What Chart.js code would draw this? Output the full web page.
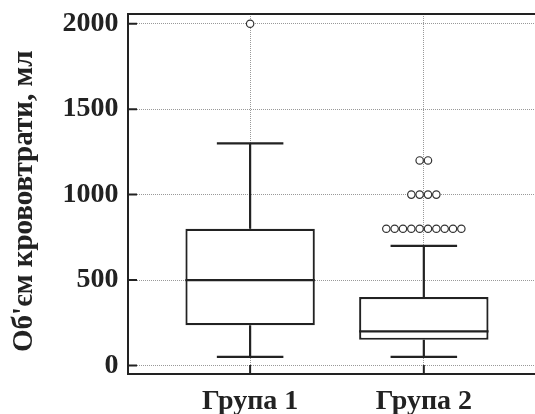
<!DOCTYPE html>
<html>
  <head>
    <title>
      Об'єм крововтрати
    </title>
    <script src="https://cdn.jsdelivr.net/npm/chart.js"></script>
    <style>
      body { margin: 0; background: #fff; }
    </style>
  </head>
  <body>
    <canvas id="myChart" width="535" height="414"></canvas>
    <script>
      'use strict'
      // groups and their box plot stats (ml)
      const groups = ['Група 1', 'Група 2'];
      const q1 = [235, 150];
      const median = [500, 200];
      const q3 = [800, 400];
      const whiskerLow = [50, 50];
      const whiskerHigh = [1300, 700];
      const outliers1 = [2000];
      const outliers2 = [800, 800, 800, 800, 800, 800, 800, 800, 800, 800, 1000, 1000, 1000, 1000, 1200, 1200];
      const yTicks = [0, 500, 1000, 1500, 2000];

      const boxWidth = 0.745;
      const capWidth = 0.383;
      const dotStep = 0.048;
      const ink = '#222';
      const font = 'Liberation Serif, Times New Roman, serif';

      // whiskers, caps and medians as broken line segments
      function boxLines() {
        const pts = [];
        groups.forEach((g, i) => {
          const x = i + 1;
          const seg = (a, b) => { pts.push(a, b, { x: x, y: null }); };
          seg({ x: x, y: q3[i] }, { x: x, y: whiskerHigh[i] });
          seg({ x: x - capWidth / 2, y: whiskerHigh[i] }, { x: x + capWidth / 2, y: whiskerHigh[i] });
          seg({ x: x, y: q1[i] }, { x: x, y: whiskerLow[i] });
          seg({ x: x - capWidth / 2, y: whiskerLow[i] }, { x: x + capWidth / 2, y: whiskerLow[i] });
          seg({ x: x - boxWidth / 2, y: median[i] }, { x: x + boxWidth / 2, y: median[i] });
        });
        return pts;
      }

      // equal outliers are spread side by side around the group centre
      function outlierPoints(values, x) {
        const counts = {};
        values.forEach(v => { counts[v] = (counts[v] || 0) + 1; });
        const seen = {};
        return values.map(v => {
          const k = seen[v] = (seen[v] || 0) + 1;
          return { x: x + (k - 1 - (counts[v] - 1) / 2) * dotStep, y: v };
        });
      }

      const frame = {
        id: 'frame',
        afterDraw(chart) {
          const { ctx, chartArea: a, scales: { x, y } } = chart;
          ctx.save();
          ctx.strokeStyle = ink;
          ctx.lineWidth = 2;
          ctx.beginPath();
          ctx.moveTo(a.left - 1, a.top);
          ctx.lineTo(a.right, a.top);
          yTicks.forEach(v => {
            const py = y.getPixelForValue(v);
            ctx.moveTo(a.left, py);
            ctx.lineTo(a.left + 9, py);
          });
          groups.forEach((g, i) => {
            const px = x.getPixelForValue(i + 1);
            ctx.moveTo(px, a.bottom);
            ctx.lineTo(px, a.bottom - 9);
          });
          ctx.stroke();
          ctx.restore();
        }
      };

      new Chart(document.getElementById('myChart'), {
        type: 'bar',
        data: {
          datasets: [
            {
              type: 'scatter',
              order: 1,
              data: outlierPoints(outliers1, 1).concat(outlierPoints(outliers2, 2)),
              pointRadius: 3.7,
              borderWidth: 1.2,
              borderColor: '#333',
              backgroundColor: '#fff',
            },
            {
              type: 'line',
              order: 2,
              data: boxLines(),
              spanGaps: false,
              pointRadius: 0,
              borderWidth: 2.2,
              borderColor: ink,
              fill: false,
            },
            {
              type: 'bar',
              order: 3,
              data: groups.map((g, i) => ({ x: i + 1, y: [q1[i], q3[i]] })),
              backgroundColor: '#fff',
              borderColor: ink,
              borderWidth: 2.2,
              borderSkipped: false,
              categoryPercentage: 1,
              barPercentage: boxWidth,
            },
          ]
        },
        options: {
          responsive: false,
          animation: false,
          layout: { autoPadding: false, padding: { top: 14, right: 0, left: 0, bottom: 0 } },
          plugins: { legend: { display: false }, tooltip: { enabled: false } },
          scales: {
            x: {
              type: 'linear',
              offset: false,
              min: 0.297,
              max: 2.64,
              afterBuildTicks: s => { s.ticks = groups.map((g, i) => ({ value: i + 1 })); },
              afterFit: s => { s.height = 40; s.paddingLeft = 0; s.paddingRight = 0; },
              ticks: {
                callback: v => groups[v - 1],
                color: ink,
                font: { family: font, size: 28, weight: 'bold' },
                padding: 11,
                maxRotation: 0,
              },
              grid: { color: '#999', drawTicks: false, offset: false },
              border: { display: true, width: 2, color: ink, dash: [1, 1] },
            },
            y: {
              min: -50,
              max: 2057,
              afterBuildTicks: s => { s.ticks = yTicks.map(v => ({ value: v })); },
              afterFit: s => { s.width = 128; s.paddingTop = 0; s.paddingBottom = 0; },
              ticks: {
                callback: v => String(v),
                color: ink,
                font: { family: font, size: 28, weight: 'bold' },
                padding: 9.5,
              },
              grid: { color: '#999', drawTicks: false },
              border: { display: true, width: 2, color: ink, dash: [1, 1] },
              title: {
                display: true,
                text: "Об'єм крововтрати, мл\u00a0\u00a0",
                color: ink,
                font: { family: font, size: 29, weight: 'bold' },
                padding: { top: 7, bottom: 0 },
              }
            }
          }
        },
        plugins: [frame]
      });
    </script>
  </body>
</html>
